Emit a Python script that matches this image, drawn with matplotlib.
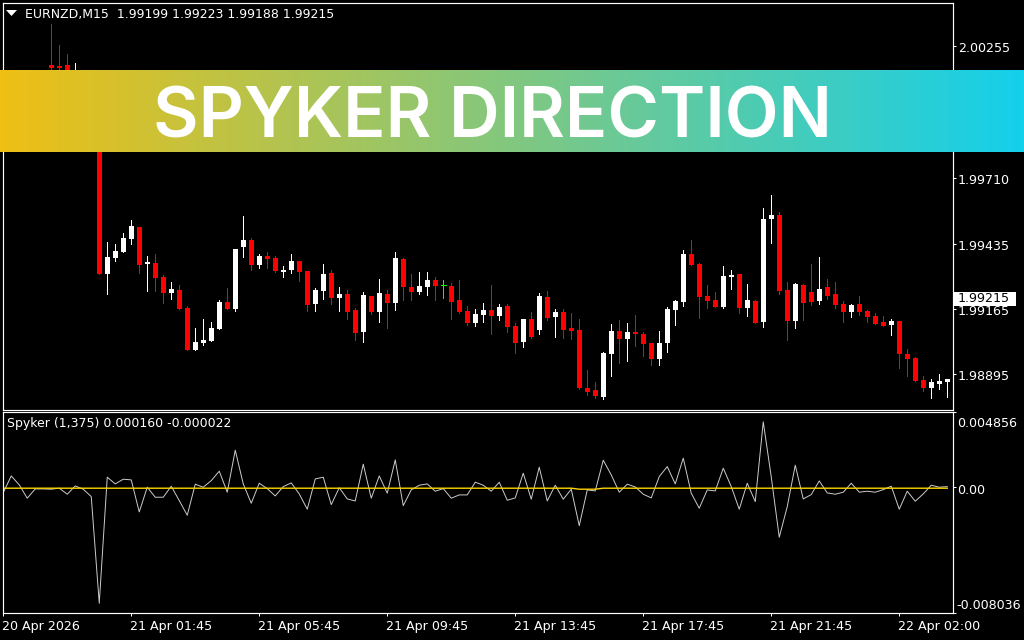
import numpy as np
import matplotlib
matplotlib.use("Agg")
import matplotlib.pyplot as plt
from matplotlib.patches import Polygon, Rectangle
from matplotlib.transforms import ScaledTranslation

opens = [2.00052,2.00065,2.00115,2.00090,2.00065,2.00098,2.00177,2.00172,2.00177,2.00098,2.00123,2.00065,2.00015,
1.99311,1.99377,1.99402,1.99456,1.99505,1.99352,1.99356,1.99298,1.99232,1.99244,1.99170,1.98996,1.99025,1.99033,1.99083,1.99195,
1.99165,1.99422,1.99451,1.99348,1.99385,1.99377,1.99319,1.99327,1.99364,1.99323,1.99186,1.99240,1.99315,1.99211,1.99228,1.99161,
1.99070,1.99219,1.99153,1.99228,1.99190,1.99373,1.99257,1.99236,1.99257,1.99286,1.99263,1.99261,1.99203,1.99157,1.99107,1.99141,
1.99161,1.99137,1.99178,1.99095,1.99029,1.99124,1.99078,1.99215,1.99132,1.99153,1.99087,1.99078,1.98838,1.98830,1.98801,1.98979,
1.99074,1.99041,1.99070,1.99062,1.99025,1.98958,1.99025,1.99161,1.99195,1.99393,1.99352,1.99219,1.99203,1.99174,1.99298,1.99311,
1.99170,1.99199,1.99112,1.99538,1.99555,1.99244,1.99116,1.99265,1.99236,1.99199,1.99257,1.99228,1.99186,1.99153,1.99186,1.99157,
1.99137,1.99112,1.99099,1.99116,1.98979,1.98962,1.98871,1.98838,1.98855,1.98863]
closes = [2.00081,2.00098,2.00073,2.00048,2.00106,2.00131,2.00164,2.00164,2.00143,2.00131,2.00065,2.00015,1.99311,
1.99381,1.99406,1.99460,1.99509,1.99348,1.99360,1.99294,1.99232,1.99248,1.99165,1.98996,1.99029,1.99037,1.99087,1.99195,1.99165,
1.99414,1.99451,1.99348,1.99385,1.99373,1.99323,1.99327,1.99364,1.99319,1.99182,1.99244,1.99311,1.99211,1.99228,1.99153,1.99066,
1.99224,1.99153,1.99232,1.99190,1.99377,1.99257,1.99236,1.99261,1.99286,1.99261,1.99263,1.99195,1.99153,1.99107,1.99145,1.99161,
1.99137,1.99174,1.99091,1.99025,1.99124,1.99049,1.99219,1.99128,1.99153,1.99078,1.99074,1.98838,1.98822,1.98805,1.98983,1.99074,
1.99041,1.99070,1.99062,1.99020,1.98958,1.99025,1.99165,1.99199,1.99393,1.99348,1.99215,1.99199,1.99174,1.99302,1.99306,1.99170,
1.99203,1.99107,1.99538,1.99555,1.99240,1.99116,1.99269,1.99190,1.99195,1.99248,1.99219,1.99182,1.99153,1.99182,1.99153,1.99132,
1.99103,1.99095,1.99116,1.98979,1.98958,1.98867,1.98838,1.98863,1.98867,1.98875]
highs = [2.00106,2.00123,2.00131,2.00115,2.00123,2.00148,2.00347,2.00259,2.00222,2.00185,2.00139,2.00081,2.00032,
1.99443,1.99435,1.99480,1.99534,1.99505,1.99385,1.99393,1.99306,1.99277,1.99265,1.99178,1.99087,1.99124,1.99112,1.99203,1.99253,
1.99414,1.99551,1.99460,1.99393,1.99402,1.99385,1.99344,1.99393,1.99364,1.99323,1.99253,1.99352,1.99327,1.99257,1.99244,1.99170,
1.99236,1.99219,1.99290,1.99244,1.99402,1.99377,1.99311,1.99319,1.99319,1.99298,1.99286,1.99273,1.99286,1.99178,1.99165,1.99190,
1.99265,1.99186,1.99186,1.99107,1.99124,1.99153,1.99232,1.99240,1.99165,1.99165,1.99149,1.99124,1.98913,1.98863,1.98987,1.99103,
1.99120,1.99107,1.99141,1.99070,1.99025,1.99074,1.99174,1.99203,1.99410,1.99451,1.99356,1.99265,1.99236,1.99344,1.99327,1.99311,
1.99269,1.99203,1.99584,1.99638,1.99567,1.99277,1.99273,1.99269,1.99352,1.99381,1.99290,1.99277,1.99199,1.99186,1.99219,1.99161,
1.99149,1.99137,1.99124,1.99116,1.99000,1.98967,1.98888,1.98875,1.98896,1.98875]
lows = [2.00015,2.00032,2.00040,2.00023,2.00040,2.00065,2.00115,2.00131,2.00098,2.00065,2.00032,1.99990,1.99311,
1.99228,1.99364,1.99402,1.99435,1.99315,1.99240,1.99240,1.99190,1.99207,1.99165,1.98996,1.98996,1.99016,1.99033,1.99083,1.99165,
1.99157,1.99381,1.99327,1.99335,1.99335,1.99319,1.99298,1.99315,1.99282,1.99157,1.99157,1.99207,1.99186,1.99157,1.99124,1.99037,
1.99029,1.99145,1.99112,1.99087,1.99161,1.99203,1.99203,1.99228,1.99224,1.99203,1.99211,1.99124,1.99149,1.99099,1.99095,1.99112,
1.99062,1.99120,1.99070,1.98983,1.99008,1.99045,1.99062,1.99120,1.99049,1.99045,1.99041,1.98834,1.98809,1.98797,1.98793,1.98888,
1.98942,1.98950,1.99012,1.98971,1.98933,1.98933,1.98987,1.99099,1.99178,1.99348,1.99128,1.99170,1.99174,1.99170,1.99248,1.99149,
1.99137,1.99107,1.99091,1.99439,1.99228,1.99037,1.99087,1.99120,1.99182,1.99186,1.99207,1.99170,1.99112,1.99132,1.99141,1.99112,
1.99103,1.99095,1.99058,1.98921,1.98888,1.98867,1.98826,1.98797,1.98834,1.98801]
spyker = [-0.000347,0.000725,0.000148,-0.000706,-0.000109,-0.000109,-0.000128,-0.000064,-0.000449,0.000083,-0.000128,-0.000603,
-0.007447,0.000642,0.000212,0.000514,0.000469,-0.001586,0.0,-0.000642,-0.000642,0.000064,-0.000860,-0.001798,0.000193,0.0,
0.000424,0.001027,-0.000321,0.002375,0.000212,-0.001027,0.000257,-0.000090,-0.000559,0.000039,0.000276,-0.000430,-0.001412,
0.000533,0.000642,-0.001117,-0.000032,-0.000751,-0.000880,0.001477,-0.000706,0.000725,-0.000385,0.001753,-0.001181,-0.000173,
0.000128,0.000212,-0.000257,-0.000090,-0.000706,-0.000494,-0.000494,0.000321,0.000128,-0.000257,0.000321,-0.000835,-0.000687,
0.000899,-0.000770,0.001284,-0.000880,0.000128,-0.000770,-0.000128,-0.002465,-0.000173,-0.000238,0.001733,0.000790,-0.000321,
0.000193,0.000019,-0.000449,-0.000687,0.000681,0.001323,0.000212,0.001862,-0.000385,-0.001348,-0.000173,-0.000238,0.001220,
0.000039,-0.001412,0.000257,-0.000924,0.004192,0.000661,-0.003210,-0.001245,0.001412,-0.000751,-0.000475,0.000404,-0.000366,
-0.000449,-0.000321,0.000257,-0.000321,-0.000257,-0.000321,-0.000154,0.000064,-0.001412,-0.000257,-0.000899,-0.000430,0.000128,
0.0,0.000039]
signal = [-0.000064]*72 + [-0.000128]*3 + [-0.000064]*44
time_ticks = [0,16,32,48,64,80,96,112]
time_labels = ["20 Apr 2026","21 Apr 01:45","21 Apr 05:45","21 Apr 09:45","21 Apr 13:45","21 Apr 17:45","21 Apr 21:45","22 Apr 02:00"]
price_ticks = [2.00255,1.99710,1.99435,1.99165,1.98895]
price_labels = ["2.00255","1.99710","1.99435","1.99165","1.98895"]
ind_ticks = [0.004856,0.0,-0.008036]
ind_labels = ["0.004856","0.00","-0.008036"]

W,H = 1024,640
def box(l,t,r,b): return [l/W,1-b/H,(r-l)/W,(b-t)/H]
plt.rcParams['font.family'] = ['DejaVu Sans']
FS = 9.05
fig = plt.figure(figsize=(W/100,H/100),dpi=100,facecolor='black')
ax1 = fig.add_axes(box(2.5,2.5,952.5,409.5),facecolor='black')
ax2 = fig.add_axes(box(2.5,411.5,952.5,612.5),facecolor='black')
xlim = (-0.09375,118.65625)
n = len(opens)
x = np.arange(n)
o,c,h,l = map(np.array,(opens,closes,highs,lows))
cols = np.where(c>o,'#ffffff',np.where(c<o,'#ff0000','#00ff00'))
ax1.vlines(x,l,h,colors=cols,linewidth=0.72,antialiased=False)
solid = c!=o
ax1.bar(x[solid],np.abs(c-o)[solid],bottom=np.minimum(o,c)[solid],width=0.625,color=cols[solid],linewidth=0,antialiased=False)
ax1.hlines(o[~solid],x[~solid]-0.34,x[~solid]+0.34,colors=cols[~solid],linewidth=0.72,antialiased=False)
ax1.set_xlim(xlim); ax1.set_ylim(1.98749,2.004356)
ax2.plot(x,spyker,color='#cccccc',lw=0.7)
ax2.plot(x,signal,color='#ffd400',lw=1.0)
ax2.set_xlim(xlim); ax2.set_ylim(-0.008036,0.004856)
for ax in (ax1,ax2):
    for s in ax.spines.values():
        s.set_color('white'); s.set_linewidth(0.85)
    ax.yaxis.tick_right()
    ax.tick_params(axis='y',colors='white',length=2.5,width=0.72,pad=1.2,labelsize=FS)
ax1.set_xticks([])
ax1.set_yticks(price_ticks); ax1.set_yticklabels(price_labels)
ax2.set_xticks(time_ticks); ax2.set_xticklabels(time_labels,ha='left')
ax2.tick_params(axis='x',colors='white',length=2.5,width=0.72,pad=3,labelsize=FS)
ax2.set_yticks(ind_ticks); ax2.set_yticklabels(ind_labels)
shifts = [-10.5,-1.5,8.5]
for lab,d in zip(ax2.get_yticklabels(),shifts):
    lab.set_transform(lab.get_transform()+ScaledTranslation(-1/100,d/100,fig.dpi_scale_trans))
for lab in ax1.get_yticklabels():
    lab.set_transform(lab.get_transform()+ScaledTranslation(0,-1/100,fig.dpi_scale_trans))
for lab in ax2.get_xticklabels():
    lab.set_transform(lab.get_transform()+ScaledTranslation(-1/100,0,fig.dpi_scale_trans))

fig.text(25/W,1-14.5/H,"EURNZD,M15  1.99199 1.99223 1.99188 1.99215",color='white',fontsize=9.0,va='center',ha='left',zorder=3)
fig.text(7/W,1-424/H,"Spyker (1,375) 0.000160 -0.000022",color='white',fontsize=9.0,va='center',ha='left',zorder=3)
fig.add_artist(Polygon([(6/W,1-10/H),(17/W,1-10/H),(11.5/W,1-16/H)],closed=True,transform=fig.transFigure,color='white',lw=0,zorder=3))
fig.add_artist(Rectangle((954/W,1-306/H),62/W,14/H,transform=fig.transFigure,color='white',lw=0,zorder=2))
fig.text(958/W,1-299/H,"1.99215",color='black',fontsize=FS,va='center',ha='left',zorder=3)

ban = fig.add_axes(box(0,70,1024,152),zorder=5)
t = np.linspace(0,1,512)
left,right = np.array([239,191,20])/255,np.array([20,208,235])/255
ban.imshow((left[None,None,:]*(1-t)[None,:,None]+right[None,None,:]*t[None,:,None]),aspect='auto',extent=(0,1,0,1))
ban.axis('off')
ban.text((152+832)/2/W,0.5-1.5/82,"SPYKER DIRECTION",color='white',fontsize=50.5,fontweight='semibold',family='Inter',ha='center',va='center_baseline',transform=ban.transAxes)
fig.savefig('out.png',dpi=100,facecolor='black')
